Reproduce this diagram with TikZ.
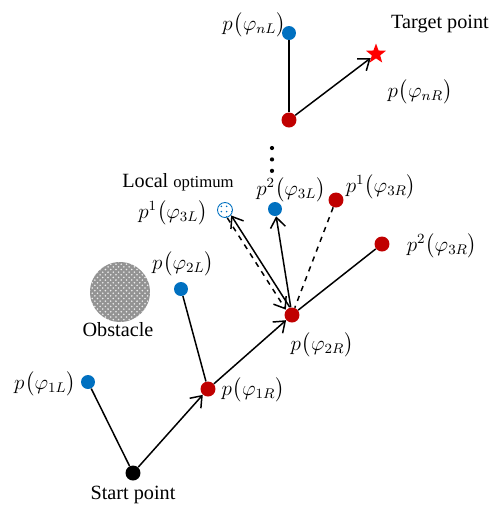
\documentclass[tikz,border=0pt]{standalone}
\usepackage{amsmath,amssymb}
\usepackage{fontspec}
\setmainfont{Liberation Serif}
\usetikzlibrary{arrows.meta,calc,positioning,shapes.geometric,patterns}
\definecolor{ptblue}{RGB}{0,112,192}
\definecolor{ptred}{RGB}{192,0,0}
\newcommand{\pvar}[2][]{$p^{#1}\bigl(\varphi_{#2}\bigr)$}

\begin{document}
\begin{tikzpicture}[x=0.02cm, y=-0.02cm, every node/.style={font=\fontsize{11.5}{13}\selectfont},
    lpt/.style={circle, fill=ptblue, inner sep=0pt, minimum size=0.28cm},
    rpt/.style={circle, fill=ptred, inner sep=0pt, minimum size=0.3cm},
    seg/.style={black, line width=0.85pt},
    go/.style={seg, -{Straight Barb[length=2mm,width=3mm]}}]
    \useasboundingbox (0,0) rectangle (492,512);

    % obstacle and start
    \node[circle, minimum size=1.2cm, inner sep=0pt, preaction={fill=gray!85}, pattern=crosshatch dots, pattern color=white!85!gray] (obs) at (120,292) {};
    \node (obslab) at (118,330) {Obstacle};
    \node[circle, fill=black, inner sep=0pt, minimum size=0.3cm] (s) at (133,473) {};
    \node (slab) at (133,495) {Start point};

    % path points
    \node[lpt] (l1) at (88,382) {};
    \node[rpt] (r1) at (208,389) {};
    \node[lpt] (l2) at (181,289) {};
    \node[rpt] (r2) at (292,315) {};
    \node[circle, draw=ptblue, line width=0.5pt, pattern=dots, pattern color=ptblue, inner sep=0pt, minimum size=0.3cm] (lo) at (225,210) {};
    \node[lpt] (l3b) at (275,209) {};
    \node[rpt] (r3a) at (336,200) {};
    \node[rpt] (r3b) at (382,244) {};
    \node[rpt] (rn) at (289,120) {};
    \node[lpt] (ln) at (289,33) {};
    \node[star, star points=5, star point ratio=2.4, fill=red, inner sep=0pt, minimum size=0.42cm] (goal) at (376,54) {};

    \draw[seg] (s) -- (l1);
    \draw[go] (s) -- (r1);
    \draw[seg] (r1) -- (l2);
    \draw[go] (r1) -- (r2);
    \draw[go, transform canvas={xshift=1.1pt, yshift=0.7pt}] (r2) -- (lo);
    \draw[go, dashed, transform canvas={xshift=-1.1pt, yshift=-0.7pt}] (lo) -- (r2);
    \draw[go] (r2) -- (l3b);
    \draw[seg, dashed] (r3a) -- (r2);
    \draw[seg] (r2) -- (r3b);
    \draw[seg] (rn) -- (ln);
    \draw[go] (rn) -- (goal);
    \draw[black, line width=2.4pt, line cap=round, dash pattern=on 0pt off 6.5pt] (272,148) -- (272,172);

    % labels
    \node[inner sep=1pt] (lnlab) at (254,25) {\pvar{nL}};
    \node (tlab) at (440,24) {Target point};
    \node (rnlab) at (420,92) {\pvar{nR}};
    \node[inner sep=1pt] (lolab) at (178,182) {Local {\fontsize{9.5}{11}\selectfont optimum}};
    \node[inner sep=1pt] (l3alab) at (173,213) {\pvar[1]{3L}};
    \node (l3blab) at (291,190) {\pvar[2]{3L}};
    \node (r3alab) at (381,187) {\pvar[1]{3R}};
    \node (r3blab) at (442,246) {\pvar[2]{3R}};
    \node (l2lab) at (183,264) {\pvar{2L}};
    \node (r2lab) at (322,345) {\pvar{2R}};
    \node (l1lab) at (45,384) {\pvar{1L}};
    \node (r1lab) at (253,390) {\pvar{1R}};
\end{tikzpicture}
\end{document}
